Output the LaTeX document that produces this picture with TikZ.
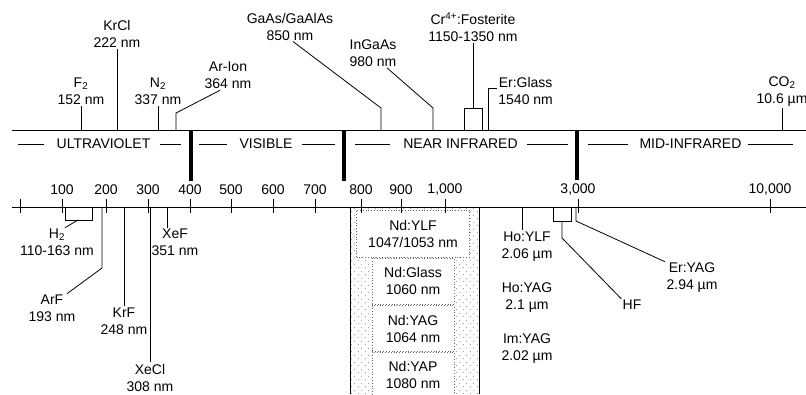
\documentclass[tikz,border=0pt]{standalone}
\usepackage{fontspec}
\setmainfont{Liberation Sans}
\usetikzlibrary{patterns}

\pgfdeclarepatternformonly{stipple}{\pgfpointorigin}{\pgfpoint{7pt}{7pt}}{\pgfpoint{7pt}{7pt}}{%
  \pgfpathcircle{\pgfpoint{1.5pt}{1.5pt}}{0.5pt}%
  \pgfpathcircle{\pgfpoint{5pt}{5pt}}{0.5pt}%
  \pgfusepath{fill}}

\tikzset{
  lbl/.style={align=center, inner sep=1pt, font=\fontsize{14}{17}\selectfont},
  band/.style={inner sep=0pt, font=\fontsize{14}{17}\selectfont},
  ndlbl/.style={lbl, fill=white, draw=black!60, dotted, text=black, minimum width=82pt, minimum height=46pt},
  bar/.style={line width=4pt},
}

\begin{document}
\begin{tikzpicture}[x=1pt, y=-1pt, line width=0.8pt]
\useasboundingbox (0,0) rectangle (806,394);

% Nd lasers band
\fill[pattern=stipple, pattern color=black!65] (350,207) rectangle (479,394);
\draw (350,207) -- (350,394);
\draw (479,207) -- (479,394);
\node[ndlbl, minimum width=113pt, minimum height=47pt] (ndylf) at (413,233.5) {Nd:YLF\\1047/1053 nm};
\node[ndlbl] (ndglass) at (413,281) {Nd:Glass\\1060 nm};
\node[ndlbl] (ndyag) at (413,328.5) {Nd:YAG\\1064 nm};
\node[ndlbl] (ndyap) at (413,375) {Nd:YAP\\1080 nm};

% axes
\coordinate (ta0) at (12,130);
\coordinate (ta1) at (806,130);
\coordinate (ba0) at (12,207);
\coordinate (ba1) at (806,207);
\draw (ta0) -- (ta1);
\draw (ba0) -- (ba1);

% regions
\draw[bar] (191,130) -- (191,181);
\draw[bar] (344,130) -- (344,181);
\draw[bar] (577,130) -- (577,180);
\node[band] (uv) at (103.5,144) {ULTRAVIOLET};
\draw ([xshift=-12pt]uv.west) -- ([xshift=-38pt]uv.west);
\draw ([xshift=9pt]uv.east) -- ([xshift=30pt]uv.east);
\node[band] (vis) at (266,144) {VISIBLE};
\draw ([xshift=-12pt]vis.west) -- ([xshift=-40pt]vis.west);
\draw ([xshift=9pt]vis.east) -- ([xshift=42pt]vis.east);
\node[band] (nir) at (460.5,144) {NEAR INFRARED};
\draw ([xshift=-13pt]nir.west) -- ([xshift=-48pt]nir.west);
\draw ([xshift=9pt]nir.east) -- ([xshift=50pt]nir.east);
\node[band] (mir) at (690.5,144) {MID-INFRARED};
\draw ([xshift=-11pt]mir.west) -- ([xshift=-51pt]mir.west);
\draw ([xshift=6pt]mir.east) -- ([xshift=51pt]mir.east);

% scale
\foreach \x/\lab [count=\i] in {20/,62/100,106/200,148/300,190/400,231/500,273/600,315/700,361/800,401/900,445/{1,000},578/{3,000},770/{10,000}} {
  \draw (\x,199) -- (\x,213);
  \node[lbl] (tk\i) at (\x,190) {\lab};
}

% lasers above
\node[lbl] (f2) at (81,91.5) {F\textsubscript{2}\\152 nm};
\draw (f2.south) -- (f2.south |- ta0);
\node[lbl] (krcl) at (117,34) {KrCl\\222 nm};
\draw (krcl.south) -- (krcl.south |- ta0);
\node[lbl] (n2) at (158,91.5) {N\textsubscript{2}\\337 nm};
\draw (n2.south) -- (n2.south |- ta0);
\node[lbl] (arion) at (228,75.5) {Ar-Ion\\364 nm};
\coordinate (arion-ft) at (176,130);
\draw ([xshift=-8pt]arion.south) -- (176,113) -- (arion-ft);
\node[lbl] (gaas) at (290,26.5) {GaAs/GaAlAs\\850 nm};
\coordinate (gaas-ft) at (381,130);
\draw ([xshift=3pt]gaas.south) -- (381,108) -- (gaas-ft);
\node[lbl] (ingaas) at (373,53) {InGaAs\\980 nm};
\coordinate (ingaas-ft) at (433,130);
\draw ([xshift=14pt]ingaas.south) -- (433,108) -- (ingaas-ft);
\node[lbl] (crfo) at (473,27) {Cr\textsuperscript{4+}:Fosterite\\1150-1350 nm};
\draw (crfo.south) -- (crfo.south |- 0,108);
\draw (464,130) |- (482,108) -- (482,130);
\node[lbl, anchor=west] (erglass) at (497,91) {Er:Glass\\1540 nm};
\coordinate (erglass-ft) at (488,130);
\draw (erglass-ft) |- ([yshift=3pt]erglass.west);
\node[lbl] (co2) at (782,91.5) {CO\textsubscript{2}\\10.6 µm};
\draw (co2.south) -- (co2.south |- ta0);

% lasers below
\node[lbl] (h2) at (57,242.5) {H\textsubscript{2}\\110-163 nm};
\draw (65,207) |- (92,220) -- (92,207);
\draw (78,220) -- ([xshift=8pt]h2.north);
\node[lbl] (arf) at (52,308.5) {ArF\\193 nm};
\coordinate (arf-ft) at (102,207);
\draw (arf-ft) -- (102,268) -- ([xshift=15pt]arf.north);
\node[lbl] (krf) at (124,321) {KrF\\248 nm};
\draw (krf.north |- ba0) -- (krf.north);
\node[lbl] (xecl) at (150,377.5) {XeCl\\308 nm};
\draw (xecl.north |- ba0) -- (xecl.north);
\node[lbl] (xef) at (175,242.5) {XeF\\351 nm};
\coordinate (xef-ft) at (167,207);
\draw (xef-ft) -- ([xshift=-8pt]xef.north);

\node[lbl] (hoylf) at (527,246.5) {Ho:YLF\\2.06 µm};
\coordinate (hoylf-ft) at (522,207);
\draw (hoylf-ft) -- ([xshift=-5pt]hoylf.north);
\node[lbl] (hoyag) at (527,298) {Ho:YAG\\2.1 µm};
\node[lbl] (imyag) at (527,348.5) {Im:YAG\\2.02 µm};

\node[lbl] (hf) at (632,305) {HF};
\draw (553,207) |- (571,221) -- (571,207);
\draw (562,221) -- (562,238) -- (hf.north west);
\node[lbl] (eryag) at (692,278) {Er:YAG\\2.94 µm};
\coordinate (eryag-ft) at (576,207);
\draw (eryag-ft) -- (576,221) -- ([xshift=-27pt]eryag.north);
\end{tikzpicture}
\end{document}
